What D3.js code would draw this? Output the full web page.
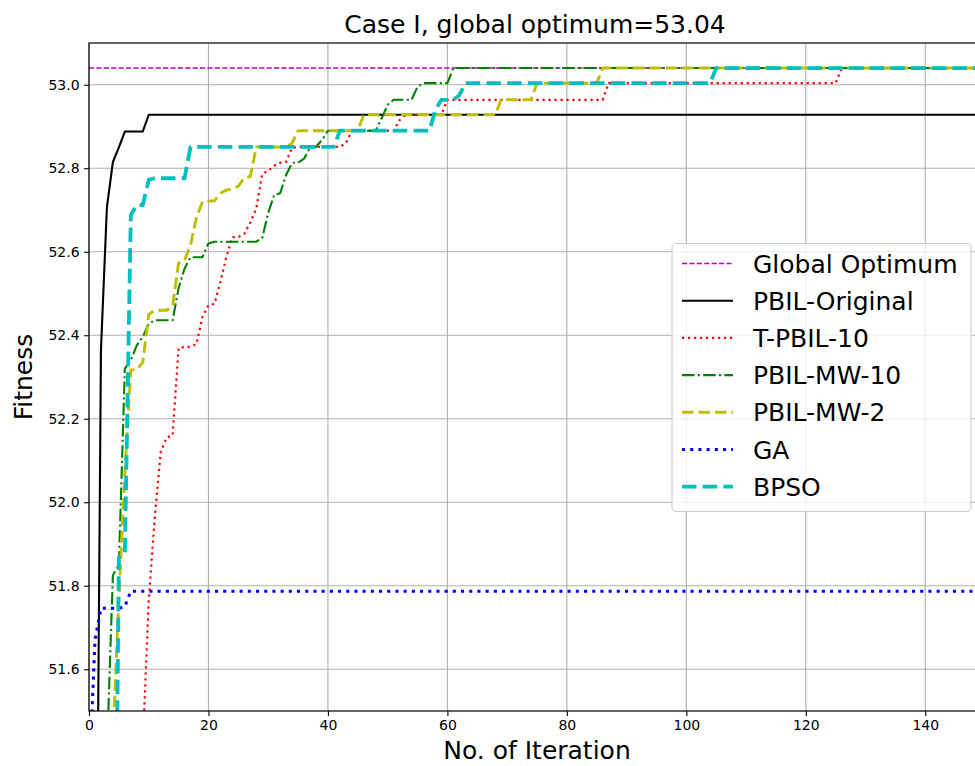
<!DOCTYPE html>
<html>
<head>
<meta charset="utf-8">
<script src="https://cdn.jsdelivr.net/npm/d3@7"></script>
<style>
  body { margin: 0; background: #fff; }
  svg { display: block; }
  text { font-family: "DejaVu Sans", sans-serif; fill: #000; }
</style>
</head>
<body>
<svg id="chart" width="975" height="766"></svg>
<script>
// ---- data: best fitness per iteration (vertices of each convergence curve) ----
const globalOptimum = 53.04;
const xTicks = [0, 20, 40, 60, 80, 100, 120, 140];
const yTicks = [51.6, 51.8, 52.0, 52.2, 52.4, 52.6, 52.8, 53.0];

const pbilOriginal = [[1, 50.5], [2, 52.365], [3, 52.707], [4, 52.815], [5, 52.85], [6, 52.888],
  [9, 52.888], [10, 52.928], [150, 52.928]];

const tPbil10 = [[9, 51.415], [10, 51.765], [11, 51.962], [12, 52.12], [13, 52.155], [14, 52.16],
  [15, 52.37], [16, 52.372], [17, 52.372], [18, 52.379], [19, 52.444], [20, 52.472], [21, 52.475],
  [22, 52.528], [23, 52.588], [24, 52.635], [25, 52.635], [26, 52.643], [27, 52.67], [28, 52.703],
  [29, 52.786], [30, 52.794], [31, 52.806], [32, 52.813], [33, 52.815], [34, 52.849], [35, 52.851],
  [42, 52.851], [43, 52.86], [44, 52.89], [51, 52.89], [52, 52.915], [53, 52.928], [59, 52.928],
  [60, 52.964], [86, 52.964], [87, 53.004], [125, 53.004], [126, 53.04], [150, 53.04]];

const pbilMw10 = [[3, 51.40], [4, 51.825], [5, 51.85], [6, 52.32], [7, 52.34], [8, 52.376],
  [9, 52.396], [10, 52.427], [11, 52.436], [14, 52.436], [15, 52.513], [16, 52.56], [17, 52.587],
  [19, 52.587], [20, 52.62], [21, 52.624], [28, 52.624], [29, 52.633], [30, 52.693], [31, 52.736],
  [32, 52.74], [33, 52.784], [34, 52.813], [35, 52.813], [36, 52.823], [37, 52.849], [38, 52.851],
  [39, 52.868], [40, 52.89], [48, 52.89], [49, 52.92], [50, 52.952], [51, 52.964], [54, 52.964],
  [55, 52.995], [56, 53.004], [60, 53.004], [61, 53.04], [150, 53.04]];

const pbilMw2 = [[4, 51.43], [5, 51.77], [6, 52.07], [7, 52.317], [8, 52.317], [9, 52.335],
  [10, 52.45], [11, 52.46], [13, 52.46], [14, 52.47], [15, 52.573], [16, 52.58], [17, 52.616],
  [18, 52.683], [19, 52.72], [21, 52.722], [22, 52.74], [23, 52.748], [24, 52.75], [25, 52.757],
  [26, 52.777], [27, 52.78], [28, 52.851], [33, 52.851], [34, 52.86], [35, 52.89], [45, 52.89],
  [46, 52.928], [68, 52.928], [69, 52.964], [74, 52.964], [75, 53.004], [85, 53.004], [86, 53.04],
  [150, 53.04]];

const ga = [[0, 51.32], [1, 51.67], [2, 51.746], [5, 51.746], [6, 51.75], [7, 51.787], [150, 51.787]];

const bpso = [[4, 50.4], [5, 51.868], [6, 51.878], [7, 52.688], [8, 52.712], [9, 52.712],
  [10, 52.772], [11, 52.776], [16, 52.776], [17, 52.851], [41, 52.851], [42, 52.89], [57, 52.89],
  [58, 52.94], [59, 52.964], [61, 52.964], [62, 52.975], [63, 53.004], [104, 53.004], [105, 53.04],
  [150, 53.04]];

const xDomain = [0, 150];
const yDomain = [51.5, 53.1];

// ---- layout ----
const margin = { left: 89, top: 43, right: 985, bottom: 711 };
const svg = d3.select("#chart");

const x = d3.scaleLinear().domain(xDomain).range([margin.left, margin.right]);
const y = d3.scaleLinear().domain(yDomain).range([margin.bottom, margin.top]);

const series = [
  { name: "Global Optimum", data: [[xDomain[0], globalOptimum], [xDomain[1], globalOptimum]],
    color: "#bf00bf", width: 1.4, dash: "5.2,2.2" },
  { name: "PBIL-Original", data: pbilOriginal, color: "#000000", width: 2.1, dash: null },
  { name: "T-PBIL-10", data: tPbil10, color: "#ff0000", width: 2.2, dash: "2.2,3.8" },
  { name: "PBIL-MW-10", data: pbilMw10, color: "#008000", width: 2.1, dash: "12.5,3.3,2.1,3.3" },
  { name: "PBIL-MW-2", data: pbilMw2, color: "#bfbf00", width: 2.9, dash: "11.5,5" },
  { name: "GA", data: ga, color: "#0000ff", width: 3.1, dash: "3.1,5.1" },
  { name: "BPSO", data: bpso, color: "#00bfbf", width: 3.8, dash: "14.5,6.2" }
];

svg.append("defs").append("clipPath").attr("id", "plot-clip")
  .append("rect")
  .attr("x", margin.left).attr("y", margin.top)
  .attr("width", margin.right - margin.left).attr("height", margin.bottom - margin.top);

// ---- grid ----
const grid = svg.append("g").attr("class", "grid");
grid.selectAll("line.gx").data(xTicks).join("line")
  .attr("x1", d => x(d)).attr("x2", d => x(d))
  .attr("y1", margin.top).attr("y2", margin.bottom)
  .attr("stroke", "#b0b0b0").attr("stroke-width", 1.1);
grid.selectAll("line.gy").data(yTicks).join("line")
  .attr("x1", margin.left).attr("x2", margin.right)
  .attr("y1", d => y(d)).attr("y2", d => y(d))
  .attr("stroke", "#b0b0b0").attr("stroke-width", 1.1);

// ---- curves ----
const line = d3.line().x(d => x(d[0])).y(d => y(d[1]));
const curves = svg.append("g").attr("clip-path", "url(#plot-clip)");
series.forEach(s => {
  curves.append("path")
    .attr("d", line(s.data))
    .attr("fill", "none")
    .attr("stroke", s.color)
    .attr("stroke-width", s.width)
    .attr("stroke-linejoin", "round")
    .attr("stroke-dasharray", s.dash);
});

// ---- axes ----
const xAxis = d3.axisBottom(x).tickValues(xTicks).tickSize(4.9).tickPadding(4.5)
  .tickFormat(d3.format("d"));
const yAxis = d3.axisLeft(y).tickValues(yTicks).tickSize(4.9).tickPadding(4.5)
  .tickFormat(d3.format(".1f"));

const gx = svg.append("g").attr("transform", `translate(0,${margin.bottom})`).call(xAxis);
const gy = svg.append("g").attr("transform", `translate(${margin.left},0)`).call(yAxis);
[gx, gy].forEach(g => {
  g.select(".domain").remove();
  g.selectAll(".tick line").attr("stroke", "#000").attr("stroke-width", 1.1);
  g.selectAll(".tick text").attr("font-size", 14).attr("font-family", "DejaVu Sans").attr("fill", "#000");
});

// ---- spines ----
const spines = svg.append("g").attr("stroke", "#000").attr("stroke-width", 1.2).attr("fill", "none");
spines.append("rect")
  .attr("x", margin.left).attr("y", margin.top)
  .attr("width", margin.right - margin.left).attr("height", margin.bottom - margin.top);

// ---- titles ----
svg.append("text")
  .attr("x", (margin.left + margin.right) / 2 - 2).attr("y", 33)
  .attr("text-anchor", "middle").attr("font-size", 25)
  .text("Case I, global optimum=" + globalOptimum.toFixed(2));

svg.append("text")
  .attr("x", (margin.left + margin.right) / 2).attr("y", 759)
  .attr("text-anchor", "middle").attr("font-size", 25)
  .text("No. of Iteration");

svg.append("text")
  .attr("transform", `translate(32,${(margin.top + margin.bottom) / 2}) rotate(-90)`)
  .attr("text-anchor", "middle").attr("font-size", 25)
  .text("Fitness");

// ---- legend ----
const legendBox = { x: 672, y: 243.5, w: 299, h: 268 };
const legend = svg.append("g");
legend.append("rect")
  .attr("x", legendBox.x).attr("y", legendBox.y)
  .attr("width", legendBox.w).attr("height", legendBox.h)
  .attr("rx", 4).attr("ry", 4)
  .attr("fill", "#ffffff").attr("fill-opacity", 0.8)
  .attr("stroke", "#cccccc").attr("stroke-width", 1.1);

const rowStart = 263.5, rowStep = 37.2;
series.forEach((s, i) => {
  const ry = rowStart + i * rowStep;
  legend.append("line")
    .attr("x1", 682).attr("x2", 733)
    .attr("y1", ry).attr("y2", ry)
    .attr("stroke", s.color).attr("stroke-width", s.width)
    .attr("stroke-dasharray", s.dash);
  legend.append("text")
    .attr("x", 753).attr("y", ry + 9)
    .attr("font-size", 25)
    .text(s.name);
});
</script>
</body>
</html>
